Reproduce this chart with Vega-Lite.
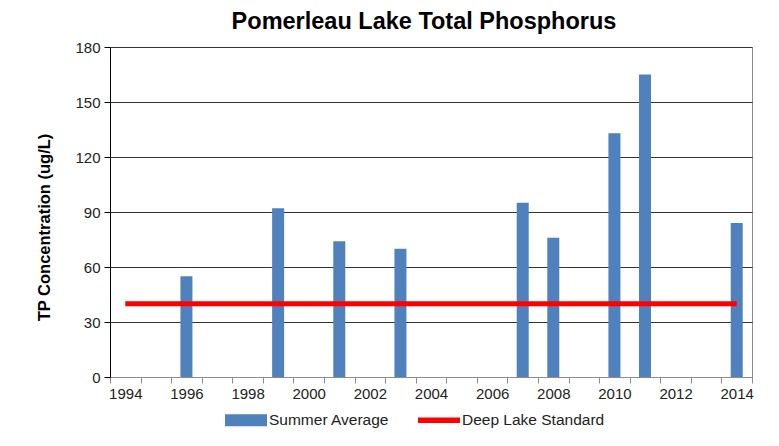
{
  "$schema": "https://vega.github.io/schema/vega-lite/v6.json",
  "width": 642,
  "height": 330,
  "autosize": {"type": "none"},
  "padding": {"left": 110, "top": 47, "right": 27, "bottom": 69},
  "background": "white",
  "config": {
    "font": "Liberation Sans",
    "view": {"stroke": "#8c8c8c", "strokeWidth": 1}
  },
  "title": {
    "text": "Pomerleau Lake Total Phosphorus",
    "fontSize": 23.5,
    "fontWeight": "bold",
    "color": "#000000",
    "anchor": "middle",
    "offset": 7,
    "dx": -7
  },
  "datasets": {
    "summer": [
      {"year": 1996, "value": 55, "series": "Summer Average"},
      {"year": 1999, "value": 92, "series": "Summer Average"},
      {"year": 2001, "value": 74, "series": "Summer Average"},
      {"year": 2003, "value": 70, "series": "Summer Average"},
      {"year": 2007, "value": 95, "series": "Summer Average"},
      {"year": 2008, "value": 76, "series": "Summer Average"},
      {"year": 2010, "value": 133, "series": "Summer Average"},
      {"year": 2011, "value": 165, "series": "Summer Average"},
      {"year": 2014, "value": 84, "series": "Summer Average"}
    ],
    "standard": [
      {"year": 1994, "value": 40, "series": "Deep Lake Standard"},
      {"year": 1995, "value": 40, "series": "Deep Lake Standard"},
      {"year": 1996, "value": 40, "series": "Deep Lake Standard"},
      {"year": 1997, "value": 40, "series": "Deep Lake Standard"},
      {"year": 1998, "value": 40, "series": "Deep Lake Standard"},
      {"year": 1999, "value": 40, "series": "Deep Lake Standard"},
      {"year": 2000, "value": 40, "series": "Deep Lake Standard"},
      {"year": 2001, "value": 40, "series": "Deep Lake Standard"},
      {"year": 2002, "value": 40, "series": "Deep Lake Standard"},
      {"year": 2003, "value": 40, "series": "Deep Lake Standard"},
      {"year": 2004, "value": 40, "series": "Deep Lake Standard"},
      {"year": 2005, "value": 40, "series": "Deep Lake Standard"},
      {"year": 2006, "value": 40, "series": "Deep Lake Standard"},
      {"year": 2007, "value": 40, "series": "Deep Lake Standard"},
      {"year": 2008, "value": 40, "series": "Deep Lake Standard"},
      {"year": 2009, "value": 40, "series": "Deep Lake Standard"},
      {"year": 2010, "value": 40, "series": "Deep Lake Standard"},
      {"year": 2011, "value": 40, "series": "Deep Lake Standard"},
      {"year": 2012, "value": 40, "series": "Deep Lake Standard"},
      {"year": 2013, "value": 40, "series": "Deep Lake Standard"},
      {"year": 2014, "value": 40, "series": "Deep Lake Standard"}
    ]
  },
  "encoding": {
    "x": {
      "field": "year",
      "type": "ordinal",
      "scale": {
        "domain": [1994,1995,1996,1997,1998,1999,2000,2001,2002,2003,2004,2005,2006,2007,2008,2009,2010,2011,2012,2013,2014],
        "paddingInner": 0,
        "paddingOuter": 0
      },
      "axis": {
        "title": null,
        "labelAngle": 0,
        "labelExpr": "datum.value % 2 === 0 ? datum.label : ''",
        "labelOverlap": false,
        "labelFontSize": 15,
        "labelColor": "#222222",
        "labelPadding": 3,
        "tickBand": "extent",
        "tickSize": 6,
        "tickColor": "#8c8c8c",
        "domainColor": "#8c8c8c",
        "grid": false
      }
    },
    "y": {
      "field": "value",
      "type": "quantitative",
      "scale": {"domain": [0, 180], "nice": false},
      "axis": {
        "title": "TP Concentration (ug/L)",
        "titleFontSize": 16.5,
        "titleFontWeight": "bold",
        "titleColor": "#000000",
        "titlePadding": 22,
        "titleY": 180,
        "values": [0, 30, 60, 90, 120, 150, 180],
        "labelFontSize": 15,
        "labelColor": "#222222",
        "labelPadding": 4,
        "tickSize": 6,
        "tickColor": "#000000",
        "domainColor": "#000000",
        "grid": true,
        "gridColor": "#333333",
        "gridWidth": 1
      }
    },
    "color": {
      "field": "series",
      "type": "nominal",
      "scale": {
        "domain": ["Summer Average", "Deep Lake Standard"],
        "range": ["#4F81BD", "#FF0000"]
      },
      "legend": {
        "title": null,
        "orient": "none",
        "direction": "horizontal",
        "legendX": 115,
        "legendY": 352,
        "symbolSize": 1764,
        "labelFontSize": 15.5,
        "labelColor": "#222222",
        "labelOffset": 2,
        "columnPadding": 28,
        "encode": {
          "symbols": {
            "update": {
              "shape": {"signal": "datum.value === 'Summer Average' ? 'M-1,-0.28H1V0.28H-1Z' : 'M-1,-0.13H1V0.13H-1Z'"},
              "fill": {"signal": "datum.value === 'Summer Average' ? '#4F81BD' : '#FF0000'"},
              "stroke": {"value": "transparent"},
              "strokeWidth": {"value": 0},
              "opacity": {"value": 1},
              "fillOpacity": {"value": 1}
            }
          }
        }
      }
    }
  },
  "layer": [
    {
      "data": {"name": "summer"},
      "mark": {"type": "bar", "width": 12}
    },
    {
      "data": {"name": "standard"},
      "mark": {"type": "line", "strokeWidth": 5, "strokeCap": "butt"}
    }
  ]
}
